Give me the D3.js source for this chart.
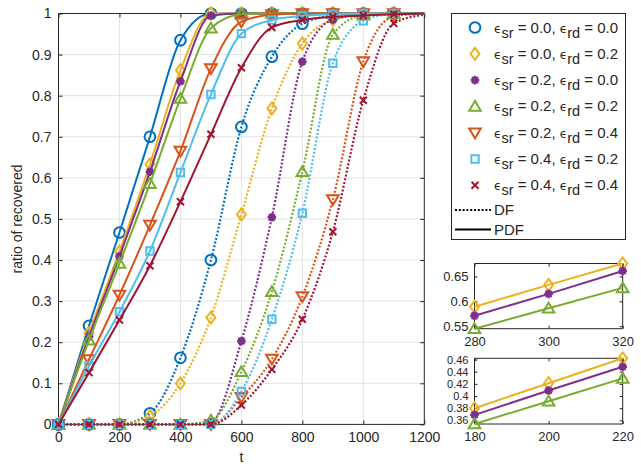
<!DOCTYPE html>
<html><head><meta charset="utf-8">
<script src="https://cdn.jsdelivr.net/npm/d3@7/dist/d3.min.js"></script>
<style>
body{margin:0;background:#fff;}
text{font-family:"Liberation Sans",Arial,Helvetica,sans-serif;fill:#262626;}
</style></head>
<body><svg id="c" width="641" height="466"></svg>
<script>
// ---------- data ----------
const tMain = [0,100,200,300,400,500,600,700,800,900,1000,1100,1200];
const seriesNames = ["s00","s02","s20","s22","s24","s42","s44"];
const legendSr = ["0.0","0.0","0.2","0.2","0.2","0.4","0.4"];
const legendRd = ["0.0","0.2","0.0","0.2","0.4","0.2","0.4"];
const colors = ["#0072BD","#EDB120","#7E2F8E","#77AC30","#D95319","#4DBEEE","#A2142F"];
const markers = ["circle","diamond","asterisk","triUp","triDown","square","cross"];

// PDF (solid)
const pdf_s00 = [0,0.240,0.467,0.700,0.935,1.000,1,1,1,1,1,1,1];
const pdf_s02 = [0,0.222,0.421,0.633,0.862,1.000,1,1,1,1,1,1,1];
const pdf_s20 = [0,0.213,0.409,0.615,0.835,0.995,1,1,1,1,1,1,1];
const pdf_s22 = [0,0.205,0.392,0.586,0.793,0.964,0.998,1,1,1,1,1,1];
const pdf_s24 = [0,0.158,0.315,0.485,0.665,0.866,0.980,0.997,1,1,1,1,1];
const pdf_s42 = [0,0.142,0.274,0.422,0.613,0.803,0.951,0.984,0.994,0.998,1,1,1];
const pdf_s44 = [0,0.126,0.254,0.386,0.542,0.706,0.868,0.966,0.984,0.992,0.995,0.998,1];
// DF (dotted)
const df_s00 = [0,0,0,0.027,0.162,0.400,0.724,0.895,0.975,0.995,1,1,1];
const df_s02 = [0,0,0,0.020,0.100,0.260,0.511,0.769,0.927,0.985,0.998,1,1];
const df_s20 = [0,0,0,0,0,0.005,0.203,0.504,0.883,0.985,0.997,1,1];
const df_s22 = [0,0,0,0,0,0.010,0.128,0.323,0.615,0.949,0.996,1,1];
const df_s24 = [0,0,0,0,0,0,0.066,0.159,0.311,0.547,0.883,0.993,1];
const df_s42 = [0,0,0,0,0,0,0.080,0.256,0.514,0.879,0.982,0.999,1];
const df_s44 = [0,0,0,0,0,0,0.047,0.134,0.256,0.469,0.789,0.976,0.997];

// insets (PDF, series s02, s20, s22)
const inset1T = [280,300,320];
const inset1_s02 = [0.589,0.633,0.676];
const inset1_s20 = [0.571,0.615,0.661];
const inset1_s22 = [0.545,0.586,0.627];
const inset2T = [180,200,220];
const inset2_s02 = [0.380,0.421,0.462];
const inset2_s20 = [0.369,0.409,0.448];
const inset2_s22 = [0.354,0.3915,0.429];

const xTicks = [0,200,400,600,800,1000,1200];
const yTicks = [0,0.1,0.2,0.3,0.4,0.5,0.6,0.7,0.8,0.9,1];
const inset1YTicks = [0.55,0.6,0.65];
const inset2YTicks = [0.36,0.38,0.4,0.42,0.44,0.46];

const pdfData = {s00:pdf_s00,s02:pdf_s02,s20:pdf_s20,s22:pdf_s22,s24:pdf_s24,s42:pdf_s42,s44:pdf_s44};
const dfData = {s00:df_s00,s02:df_s02,s20:df_s20,s22:df_s22,s24:df_s24,s42:df_s42,s44:df_s44};

// ---------- drawing ----------
const svg = d3.select("#c");
const axisCol = "#262626";
const gridCol = "#e3e3e3";
const DASH = "2,1.8";

function markerPath(kind){
  switch(kind){
    case "circle": return d3.symbol(d3.symbolCircle, 90)();
    case "diamond": return "M0,-6L4.5,0L0,6L-4.5,0Z";
    case "triUp": return "M0,-5.5L5.8,4.3L-5.8,4.3Z";
    case "triDown": return "M0,5.5L5.8,-4.3L-5.8,-4.3Z";
    case "square": return "M-3.7,-3.7H3.7V3.7H-3.7Z";
    case "cross": return "M-3.5,-3.5L3.5,3.5M3.5,-3.5L-3.5,3.5";
    case "asterisk": {
      let p=""; for(let i=0;i<4;i++){const a=i*Math.PI/4, r=4.3; p+=`M${-r*Math.cos(a)},${-r*Math.sin(a)}L${r*Math.cos(a)},${r*Math.sin(a)}`;} return p;
    }
  }
}
function drawMarker(g, kind, color, x, y){
  const p = g.append("path").attr("d", markerPath(kind)).attr("transform",`translate(${x},${y})`)
    .attr("stroke", color).attr("stroke-width", 2).attr("fill","none");
  if(kind==="asterisk"){ p.attr("stroke-width",2.4); g.append("circle").attr("cx",x).attr("cy",y).attr("r",3).attr("fill",color); }
  return p;
}

// main axes
const L=58.5, R=424.3, T=13.5, B=424.4;
const x = d3.scaleLinear().domain([0,1200]).range([L,R]);
const y = d3.scaleLinear().domain([0,1]).range([B,T]);

const grid = svg.append("g");
xTicks.forEach(v=>{ if(v>0 && v<1200) grid.append("line").attr("x1",x(v)).attr("x2",x(v)).attr("y1",T).attr("y2",B).attr("stroke",gridCol); });
yTicks.forEach(v=>{ if(v>0 && v<1) grid.append("line").attr("x1",L).attr("x2",R).attr("y1",y(v)).attr("y2",y(v)).attr("stroke",gridCol); });

const fmtY = d => d===0?"0":(d===1?"1":d3.format(".1f")(d));
const gx = svg.append("g").attr("transform",`translate(0,${B})`).call(d3.axisBottom(x).tickValues(xTicks).tickSize(-4).tickPadding(8).tickFormat(d3.format("d")));
const gxt = svg.append("g").attr("transform",`translate(0,${T})`).call(d3.axisTop(x).tickValues(xTicks).tickSize(-4).tickFormat(""));
const gy = svg.append("g").attr("transform",`translate(${L},0)`).call(d3.axisLeft(y).tickValues(yTicks).tickSize(-4).tickPadding(7).tickFormat(fmtY));
const gyr = svg.append("g").attr("transform",`translate(${R},0)`).call(d3.axisRight(y).tickValues(yTicks).tickSize(-4).tickFormat(""));
[gx,gxt,gy,gyr].forEach(g=>{
  g.selectAll("path.domain").attr("stroke",axisCol).attr("stroke-width",1);
  g.selectAll(".tick line").attr("stroke",axisCol);
  g.selectAll(".tick text").attr("fill",axisCol).style("font-size","14px").style("font-family",'"Liberation Sans",Arial,sans-serif');
});
gx.selectAll("path.domain").attr("d",`M${L},0H${R}`);
gxt.selectAll("path.domain").attr("d",`M${L},0H${R}`);
gy.selectAll("path.domain").attr("d",`M0,${T}V${B}`);
gyr.selectAll("path.domain").attr("d",`M0,${T}V${B}`);

svg.append("text").attr("x",x(600)).attr("y",462).attr("text-anchor","middle").style("font-size","14px").text("t");
svg.append("text").attr("transform",`translate(22,${(T+B)/2}) rotate(-90)`).attr("text-anchor","middle").style("font-size","14px").text("ratio of recovered");

const line = d3.line().x((d,i)=>x(tMain[i])).y(d=>y(d)).curve(d3.curveMonotoneX);
const plot = svg.append("g");
const markerIdx = d3.range(0,12);
// DF first
seriesNames.forEach((s,k)=>{
  plot.append("path").attr("d", line(dfData[s])).attr("fill","none").attr("stroke",colors[k])
    .attr("stroke-width",2.2).attr("stroke-dasharray",DASH);
  markerIdx.forEach(i=>drawMarker(plot, markers[k], colors[k], x(tMain[i]), y(dfData[s][i])));
});
seriesNames.forEach((s,k)=>{
  plot.append("path").attr("d", line(pdfData[s])).attr("fill","none").attr("stroke",colors[k]).attr("stroke-width",2);
  markerIdx.forEach(i=>drawMarker(plot, markers[k], colors[k], x(tMain[i]), y(pdfData[s][i])));
});

// legend
const lg = svg.append("g");
lg.append("rect").attr("x",451.5).attr("y",13.5).attr("width",174).attr("height",226).attr("fill","#fff").attr("stroke",axisCol).attr("stroke-width",1);
seriesNames.forEach((s,k)=>{
  const ly = 27.5 + k*26.3;
  drawMarker(lg, markers[k], colors[k], 475, ly);
  const t = lg.append("text").attr("x",494).attr("y",ly+5).style("font-size","15px");
  t.append("tspan").text("ϵ").style("font-family",'"DejaVu Sans",sans-serif').style("font-size","12px");
  t.append("tspan").text("sr").attr("dy",5).style("font-size","14.5px");
  t.append("tspan").text(" = "+legendSr[k]+", ").attr("dy",-5);
  t.append("tspan").text("ϵ").style("font-family",'"DejaVu Sans",sans-serif').style("font-size","12px");
  t.append("tspan").text("rd").attr("dy",5).style("font-size","14.5px");
  t.append("tspan").text(" = "+legendRd[k]).attr("dy",-5);
});
[["DF",DASH,210],["PDF",null,229.5]].forEach(([lab,da,ly])=>{
  const l = lg.append("line").attr("x1",455).attr("x2",491).attr("y1",ly).attr("y2",ly).attr("stroke","#000").attr("stroke-width",2);
  if(da) l.attr("stroke-dasharray",da);
  lg.append("text").attr("x",494).attr("y",ly+5).style("font-size","15px").text(lab);
});

// insets
function inset(top, bottom, tArr, vals, yTicksArr, yFont){
  const il=474.5, ir=622.7;
  const allV = [].concat(...vals);
  const ix = d3.scaleLinear().domain(d3.extent(tArr)).range([il,ir]);
  const iy = d3.scaleLinear().domain(d3.extent(allV)).range([bottom,top]);
  const g = svg.append("g");
  g.append("rect").attr("x",il).attr("y",top).attr("width",ir-il).attr("height",bottom-top).attr("fill","#fff");
  const ax = g.append("g").attr("transform",`translate(0,${bottom})`).call(d3.axisBottom(ix).tickValues(tArr).tickSize(-3).tickPadding(8).tickFormat(d3.format("d")));
  const axt = g.append("g").attr("transform",`translate(0,${top})`).call(d3.axisTop(ix).tickValues(tArr).tickSize(-3).tickFormat(""));
  const ay = g.append("g").attr("transform",`translate(${il},0)`).call(d3.axisLeft(iy).tickValues(yTicksArr).tickSize(-3).tickPadding(6).tickFormat(d=>String(+d.toFixed(2))));
  const ayr = g.append("g").attr("transform",`translate(${ir},0)`).call(d3.axisRight(iy).tickValues(yTicksArr).tickSize(-3).tickFormat(""));
  [ax,axt,ay,ayr].forEach(a=>{
    a.selectAll("path.domain").attr("stroke",axisCol);
    a.selectAll(".tick line").attr("stroke",axisCol);
    a.selectAll(".tick text").attr("fill",axisCol).style("font-size","13px").style("font-family",'"Liberation Sans",Arial,sans-serif');
  });
  ay.selectAll(".tick text").style("font-size",yFont+"px");
  ax.selectAll("path.domain").attr("d",`M${il},0H${ir}`);
  axt.selectAll("path.domain").attr("d",`M${il},0H${ir}`);
  ay.selectAll("path.domain").attr("d",`M0,${top}V${bottom}`);
  ayr.selectAll("path.domain").attr("d",`M0,${top}V${bottom}`);
  const idx = [1,2,3];
  const il2 = d3.line().x((d,i)=>ix(tArr[i])).y(d=>iy(d));
  vals.forEach((v,j)=>{
    const k = idx[j];
    g.append("path").attr("d",il2(v)).attr("fill","none").attr("stroke",colors[k]).attr("stroke-width",2);
    v.forEach((d,i)=>drawMarker(g, markers[k], colors[k], ix(tArr[i]), iy(d)));
  });
}
inset(263.5, 328.7, inset1T, [inset1_s02, inset1_s20, inset1_s22], inset1YTicks, 13);
inset(358.3, 424, inset2T, [inset2_s02, inset2_s20, inset2_s22], inset2YTicks, 11);
</script></body></html>
